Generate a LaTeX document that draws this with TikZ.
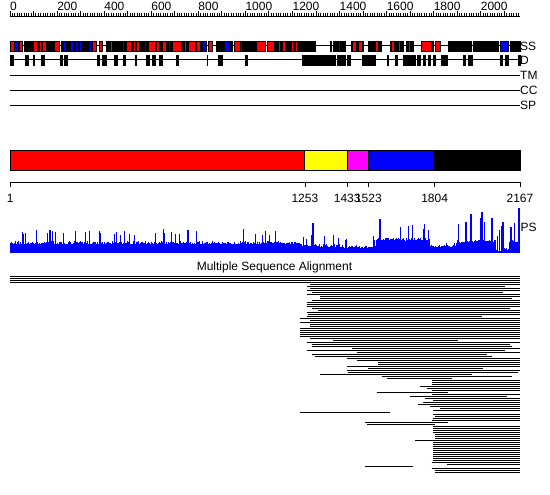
\documentclass[tikz,border=0pt]{standalone}
\usepackage{fontspec}
\setmainfont{Liberation Sans}
\definecolor{ssred}{RGB}{255,0,0}
\definecolor{ssblue}{RGB}{0,0,255}
\definecolor{dyellow}{RGB}{255,255,0}
\definecolor{dmag}{RGB}{255,0,255}
\begin{document}
\begin{tikzpicture}[x=1pt,y=-1pt,
  lbl/.style={font=\fontsize{12}{14}\selectfont, inner sep=0pt},
  trackline/.style={line width=1pt, black},
  ssbox/.style={draw=black, line width=0.5pt},
  dombox/.style={draw=black, line width=1pt},
  alnline/.style={line width=1pt, black},
  tickline/.style={line width=0.8pt, black}]
\useasboundingbox (0,0) rectangle (550,495);

% ---------- top ruler ----------
\draw[tickline] (10,16) -- (520,16);
\foreach \r in {0,10,...,2160}{
  \draw[tickline] ({10+\r/2167*510},16) -- ++(0,-3);
}
\foreach \r in {0,100,...,2100}{
  \draw[tickline] ({10+\r/2167*510},16) -- ++(0,-4.5);
}
\foreach \r in {0,200,...,2000}{
  \node[lbl, anchor=base west] (rl\r) at ({10+\r/2167*510},11) {\r};
}

% ---------- SS track ----------
\draw[trackline] (10,46) -- (520,46);
\foreach \a/\b in {24/25.7, 26.7/48.3, 48.3/53.3, 61.7/69.3, 70/96.7, 106/115, 116.7/160, 161/201.7, 216.7/232.3, 242.3/245, 246/255, 275/280, 280/301.7, 301.7/315, 330/331.7, 333.3/345, 351.7/363.3, 368.3/371, 372.3/381.7, 390/395, 396.7/403.3, 406.7/413.3, 421/433.3, 448.3/450, 451.7/471.7, 473.3/498.3, 500/508.3, 510/520}{
  \filldraw[ssbox, fill=black] (\a,41) rectangle (\b,51);
}
\foreach \a/\b/\c in {10/14.3/ssred, 14.3/18.3/ssblue, 19/22.7/ssred, 33.3/37.3/ssred, 39/41/ssred, 42.7/46.7/ssred, 49.3/50.7/ssred, 54/59.3/ssred, 63.3/66.7/ssblue, 70.7/73.3/ssblue, 75.3/77.3/ssblue, 79.3/81.7/ssblue, 83.3/84.7/ssblue, 89.3/91.7/ssblue, 92.7/96.7/ssred, 99/102.7/ssred, 110/112/ssred, 122/124/ssblue, 126/131.7/ssred, 133.3/135/ssred, 136.7/139.3/ssred, 144/146/ssblue, 148.3/155/ssred, 156.7/159.3/ssred, 162/166.7/ssred, 168.3/170.7/ssblue, 172.3/181.7/ssred, 184/186.7/ssred, 188.3/195/ssred, 196.7/200/ssred, 202.3/206.7/ssblue, 208.3/212.3/ssred, 220/221.7/ssblue, 224/229.3/ssblue, 234.3/240/ssred, 240.7/242.3/ssblue, 256/265/ssred, 267.3/274/ssred, 276/277/ssblue, 278.3/280/ssred, 282.3/285/ssred, 291/293.3/ssred, 295.7/297.7/ssred, 338.3/340/ssblue, 352.3/356.7/ssred, 358.3/362.3/ssred, 375/378.3/ssred, 391.7/394.3/ssred, 398.3/400/ssred, 408.3/410/ssred, 421.7/431.7/ssred, 435/440/ssred, 455/456.7/ssblue, 460/461.7/ssblue, 478.3/479.3/ssblue, 485/486/ssblue, 490/491/ssblue, 500/505/ssblue, 505.5/507/ssblue}{
  \filldraw[ssbox, fill=\c] (\a,41) rectangle (\b,51);
}
\node[lbl, anchor=west] (lSS) at (520,46) {SS};

% ---------- D track ----------
\draw[trackline] (10,60) -- (520,60);
\foreach \a/\b in {10/11, 12.3/13.3, 25/27.7, 33.3/34, 41/43.7, 60/62, 64/66.7, 96.7/98.7, 102.3/106, 114.3/117, 123/124.7, 135/135.7, 146/148.7, 152.3/153, 154.3/155.3, 159/162, 176/177.7, 206.7/207.3, 218.3/219.3, 220/221.7, 245/247, 301.7/335, 336.7/341.7, 343.3/345, 346.7/350, 361.7/375, 386.7/388.3, 395/396.7, 403/406.7, 408/411.7, 413/415, 416.7/420, 423/425, 428.3/430, 433/435, 440.7/447.3, 463.3/465, 468/471.7, 500/501.7, 505/508.3, 518.3/520}{
  \filldraw[draw=black, line width=0.4pt, fill=black] (\a,55) rectangle (\b,65);
}
\node[lbl, anchor=west] (lD) at (520,60) {D};

% ---------- TM / CC / SP ----------
\draw[trackline] (10,75.3) -- (520,75.3);
\node[lbl, anchor=west] (lTM) at (520,75.3) {TM};
\draw[trackline] (10,90.3) -- (520,90.3);
\node[lbl, anchor=west] (lCC) at (520,90.3) {CC};
\draw[trackline] (10,105.3) -- (520,105.3);
\node[lbl, anchor=west] (lSP) at (520,105.3) {SP};

% ---------- domain bar ----------
\filldraw[dombox, fill=ssred]   (10,150.5) rectangle (304.9,171);
\filldraw[dombox, fill=dyellow] (304.9,150.5) rectangle (347.2,171);
\filldraw[dombox, fill=dmag]    (347.2,150.5) rectangle (368.4,171);
\filldraw[dombox, fill=ssblue]  (368.4,150.5) rectangle (434.6,171);
\filldraw[dombox, fill=black]   (434.6,150.5) rectangle (520,171);

\draw[tickline] (10,182.5) -- (520,182.5);
\foreach \p/\t in {10.2/1, 304.9/1253, 347.2/1433, 368.4/1523, 434.6/1804, 520/2167}{
  \draw[tickline] (\p,182.5) -- (\p,187);
  \node[lbl, anchor=base] (dl\t) at (\p,203) {\t};
}

% ---------- PS profile ----------
\pgfmathsetseed{11}
\foreach \i in {10,...,519}{
  \pgfmathsetmacro\bb{\i<300 ? 9.5 : (\i<340 ? 7 : (\i<376 ? 5.5 : (\i<430 ? 13 : (\i<456 ? 6.5 : (and(\i>495,\i<509) ? 2.5 : 11)))))}
  \pgfmathsetmacro\amp{\i<300 ? 14 : (\i<340 ? 11 : (\i<376 ? 11 : (\i<430 ? 16 : (\i<456 ? 4 : 24))))}
  \pgfmathsetmacro\ss{rnd}
  \pgfmathsetmacro\hh{\ss<0.13 ? \bb+\amp*(0.55+0.45*rnd) : \bb+3*rnd-1.2}
  \fill[ssblue] (\i,252.5) rectangle (\i+1,252.5-\hh);
}
\foreach \x/\h in {312/29, 379/33, 465/30, 470/38, 481/40, 491/34, 502/30, 510/25, 518/44}{
  \fill[ssblue] (\x,252.5) rectangle (\x+1.5,252.5-\h);
}
\node[lbl, anchor=west] (lPS) at (520.5,227) {PS};

% ---------- alignment ----------
\node[lbl, anchor=base] (title) at (274.5,270.8) {Multiple Sequence Alignment};
\foreach \s/\e [count=\k from 0] in {-840/690, -840/690, -840/690, -840/690,
 60/690, 50/645, 60/690, 50/690, 65/640, 50/690, 90/690, 90/665, 65/690, 50/690, 50/690, 50/690, 65/660, 85/690, 50/690, 55/690, 50/575, 30/690, 60/690, 30/690, 60/690, 60/690, 30/690, 30/690, 30/690, 30/690, 30/690, 60/690, 130/505, 50/690, 65/660,
 65/665, 185/690, 50/645, 200/690, 65/590, 75/605, 170/690, 200/690, 265/690, 265/690, 170/690, 235/580, 170/690, 175/685, 90/545, 275/665, 290/485, 425/690, 425/690, 425/690, 390/690, 410/690, 425/690, 260/475, 425/690, 360/650, 405/690, 430/690, 400/690, 385/690, 420/690, 450/690, 430/690, 30/300, 430/690, 435/690,
 430/690, 425/690, 225/475, 230/435, 430/690, 430/690, 430/690, 430/690, 435/690, 435/690, 435/690, 375/690, 430/690, 430/690, 430/690, 430/690, 430/690, 430/690, 430/690, 430/690, 430/690, 430/690, 425/690, 470/690, 225/370, 425/690, 435/690, 435/690}{
  \draw[alnline] ({290+\s/3},{276.5+2*\k}) -- ({290+\e/3},{276.5+2*\k});
}
\end{tikzpicture}
\end{document}
